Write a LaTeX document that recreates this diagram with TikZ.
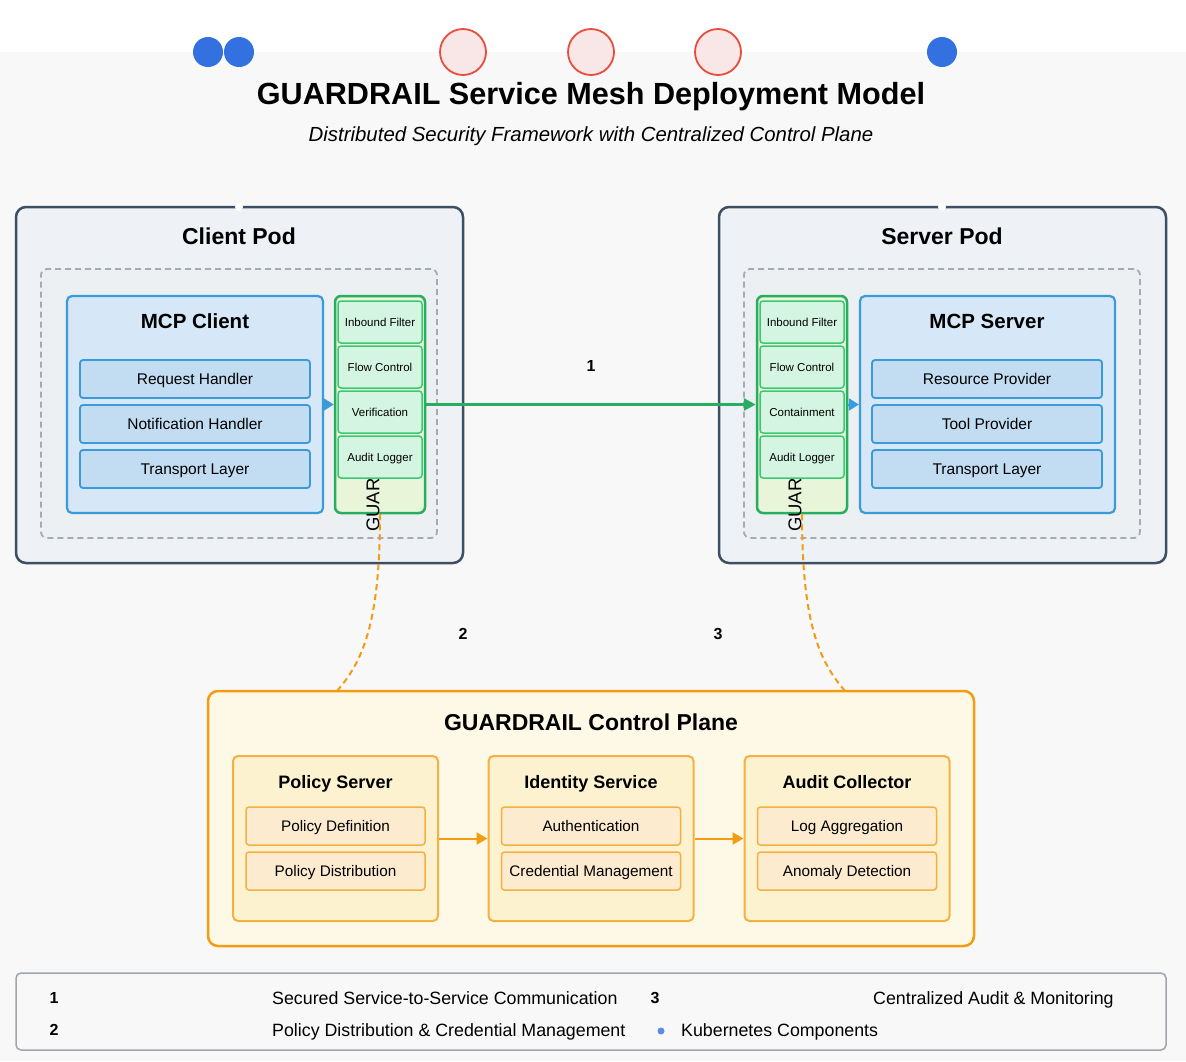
\documentclass[tikz,border=0pt]{standalone}
\usepackage{fontspec}
\setmainfont{Liberation Sans}
\usetikzlibrary{arrows.meta}
\definecolor{bgcol}{HTML}{F8F8F8}
\definecolor{kblue}{HTML}{3370E0}
\definecolor{redline}{HTML}{E74C3C}
\definecolor{redfill}{HTML}{F9E6E6}
\definecolor{podline}{HTML}{3D4F63}
\definecolor{podfill}{HTML}{EEF2F6}
\definecolor{dashline}{HTML}{A5ABB0}
\definecolor{dashfill}{HTML}{ECF0F3}
\definecolor{mcpline}{HTML}{3B9AD9}
\definecolor{mcpfill}{HTML}{D6E7F7}
\definecolor{itemfill}{HTML}{C2DCF2}
\definecolor{scline}{HTML}{27AE60}
\definecolor{scfill}{HTML}{E9F5D8}
\definecolor{scitemfill}{HTML}{D5F5E3}
\definecolor{scitemline}{HTML}{3CC873}
\definecolor{orng}{HTML}{F39C12}
\definecolor{cpfill}{HTML}{FEF8E7}
\definecolor{svcline}{HTML}{F5B041}
\definecolor{svcfill}{HTML}{FDF2D0}
\definecolor{svcitemfill}{HTML}{FDEBD0}
\definecolor{legline}{HTML}{A0A6AB}

\begin{document}
\begin{tikzpicture}[x=1pt, y=-1pt,
	pod/.style={draw=podline, line width=2.5pt, fill=podfill, rounded corners=10pt, minimum width=447pt, minimum height=356pt},
	ns/.style={draw=dashline, line width=1.8pt, dash pattern=on 6pt off 4pt, fill=dashfill, rounded corners=6pt, minimum width=396pt, minimum height=269pt},
	mcp/.style={draw=mcpline, line width=2.2pt, fill=mcpfill, rounded corners=5pt, minimum width=256pt, minimum height=217pt},
	mcpitem/.style={draw=mcpline, line width=1.8pt, fill=itemfill, rounded corners=3pt, minimum width=230pt, minimum height=38pt, inner sep=0pt, text height=11.2pt, text depth=0pt, font=\fontsize{15.5}{18}\selectfont},
	sidecar/.style={draw=scline, line width=2.5pt, fill=scfill, rounded corners=6pt, minimum width=90pt, minimum height=217pt},
	scitem/.style={draw=scitemline, line width=1.5pt, fill=scitemfill, rounded corners=3pt, minimum width=84pt, minimum height=42pt, inner sep=0pt, text height=8.3pt, text depth=0pt, font=\fontsize{11.5}{14}\selectfont},
	svc/.style={draw=svcline, line width=2pt, fill=svcfill, rounded corners=5pt, minimum width=205pt, minimum height=165pt},
	svcitem/.style={draw=svcline, line width=1.5pt, fill=svcitemfill, rounded corners=3pt, minimum width=179pt, minimum height=38pt, inner sep=0pt, text height=11pt, text depth=0pt, font=\fontsize{15.3}{18}\selectfont},
	head/.style={text height=16.5pt, text depth=0pt, font=\fontsize{23}{27}\selectfont\bfseries},
	subhead/.style={text height=14.8pt, text depth=0pt, font=\fontsize{20.5}{24}\selectfont\bfseries},
	svchead/.style={text height=13pt, text depth=0pt, font=\fontsize{18}{22}\selectfont\bfseries},
	num/.style={font=\fontsize{16}{19}\selectfont\bfseries},
	legtext/.style={anchor=west, inner sep=0pt, text height=12.8pt, text depth=0pt, font=\fontsize{17.8}{21}\selectfont},
	guar/.style={rotate=90, anchor=west, inner sep=0pt, font=\fontsize{18.5}{22}\selectfont},
	dot/.style={circle, fill=kblue, minimum size=30pt, inner sep=0pt},
	ring/.style={circle, draw=redline, line width=1.8pt, fill=redfill, minimum size=46pt, inner sep=0pt},
	link/.style={-{Triangle[length=12pt,width=12pt]}, scline, line width=3pt},
	feed/.style={-{Triangle[length=10pt,width=12pt]}, mcpline, line width=2pt},
	sync/.style={orng, line width=2pt, dash pattern=on 6pt off 4pt},
	flow/.style={-{Triangle[length=11pt,width=12pt]}, orng, line width=2pt}]

	\fill [white] (0,0) rectangle (1186,52);
	\fill [bgcol] (0,52) rectangle (1186,1061);
	\useasboundingbox (0,0) rectangle (1186,1061);

	\node [dot] (d1) at (208,52) {};
	\node [dot] (d2) at (239,52) {};
	\node [dot] (d3) at (942,52) {};
	\node [ring] (r1) at (463,52) {};
	\node [ring] (r2) at (591,52) {};
	\node [ring] (r3) at (718,52) {};

	\node [text height=22pt, text depth=0pt, font=\fontsize{30.6}{36}\selectfont\bfseries] (title) at (591,93) {GUARDRAIL Service Mesh Deployment Model};
	\node [text height=14.6pt, text depth=0pt, font=\fontsize{20.4}{24}\selectfont\itshape] (subtitle) at (591,134) {Distributed Security Framework with Centralized Control Plane};

	% client side
	\node [pod] (cpod) at (239.5,385) {};
	\node [circle, fill=white, minimum size=8pt, inner sep=0pt] (cicon) at (239,207) {};
	\node [head] (cpodt) at (239,236) {Client Pod};
	\node [ns] (cns) at (239,403.5) {};
	\node [mcp] (mcpc) at (195,404.5) {};
	\node [subhead] (mcpct) at (195,321) {MCP Client};
	\node [mcpitem] (req) at (195,379) {Request Handler};
	\node [mcpitem] (notif) at (195,424) {Notification Handler};
	\node [mcpitem] (ctrans) at (195,469) {Transport Layer};
	\node [sidecar] (csc) at (380,404.5) {};
	\node [guar] (cguar) at (373,532) {GUAR};
	\node [scitem] (cin) at (380,322) {Inbound Filter};
	\node [scitem] (cflow) at (380,367) {Flow Control};
	\node [scitem] (cver) at (380,412) {Verification};
	\node [scitem] (caud) at (380,457) {Audit Logger};

	% server side
	\node [pod] (spod) at (942.5,385) {};
	\node [circle, fill=white, minimum size=8pt, inner sep=0pt] (sicon) at (942,207) {};
	\node [head] (spodt) at (942,236) {Server Pod};
	\node [ns] (sns) at (942,403.5) {};
	\node [sidecar] (ssc) at (802,404.5) {};
	\node [guar] (sguar) at (795,532) {GUAR};
	\node [scitem] (sin) at (802,322) {Inbound Filter};
	\node [scitem] (sflow) at (802,367) {Flow Control};
	\node [scitem] (scont) at (802,412) {Containment};
	\node [scitem] (saud) at (802,457) {Audit Logger};
	\node [mcp, minimum width=255pt] (mcps) at (987.5,404.5) {};
	\node [subhead] (mcpst) at (987,321) {MCP Server};
	\node [mcpitem] (res) at (987,379) {Resource Provider};
	\node [mcpitem] (tool) at (987,424) {Tool Provider};
	\node [mcpitem] (strans) at (987,469) {Transport Layer};

	\draw [feed] (mcpc.east) -- (csc.west);
	\draw [feed] (ssc.east) -- (mcps.west);
	\draw [link] (csc.east) -- (ssc.west);
	\node [num] (n1) at (591,366) {1};

	% control plane
	\node [draw=orng, line width=2.5pt, fill=cpfill, rounded corners=10pt, minimum width=766pt, minimum height=255pt] (cp) at (591,818.5) {};
	\coordinate (cpl) at (337,691);
	\coordinate (cpr) at (845,691);
	\draw [sync] (csc.south) .. controls (380,625) and (362,662) .. (cpl);
	\draw [sync] (ssc.south) .. controls (802,625) and (820,662) .. (cpr);
	\node [num] (n2) at (463,634) {2};
	\node [num] (n3) at (718,634) {3};
	\node [head] (cpt) at (591,722) {GUARDRAIL Control Plane};

	\node [svc] (ps) at (335.5,838.5) {};
	\node [svchead] (pst) at (335.5,782) {Policy Server};
	\node [svcitem] (pdef) at (335.5,826) {Policy Definition};
	\node [svcitem] (pdist) at (335.5,871) {Policy Distribution};
	\node [svc] (is) at (591,838.5) {};
	\node [svchead] (ist) at (591,782) {Identity Service};
	\node [svcitem] (auth) at (591,826) {Authentication};
	\node [svcitem] (cred) at (591,871) {Credential Management};
	\node [svc] (ac) at (847,838.5) {};
	\node [svchead] (act) at (847,782) {Audit Collector};
	\node [svcitem] (logs) at (847,826) {Log Aggregation};
	\node [svcitem] (anom) at (847,871) {Anomaly Detection};
	\draw [flow] (ps.east) -- (is.west);
	\draw [flow] (is.east) -- (ac.west);

	% legend
	\node [draw=legline, line width=1.5pt, fill=bgcol, rounded corners=5pt, minimum width=1150pt, minimum height=77pt] (leg) at (591,1011.5) {};
	\node [num] (l1) at (54,998) {1};
	\node [legtext] (l1t) at (272,998) {Secured Service-to-Service Communication};
	\node [num] (l3) at (655,998) {3};
	\node [legtext] (l3t) at (873,998) {Centralized Audit \& Monitoring};
	\node [num] (l2) at (54,1030) {2};
	\node [legtext] (l2t) at (272,1030) {Policy Distribution \& Credential Management};
	\node [circle, fill=kblue!80, minimum size=7pt, inner sep=0pt] (kicon) at (661,1031) {};
	\node [legtext] (kt) at (681,1030) {Kubernetes Components};
\end{tikzpicture}
\end{document}
